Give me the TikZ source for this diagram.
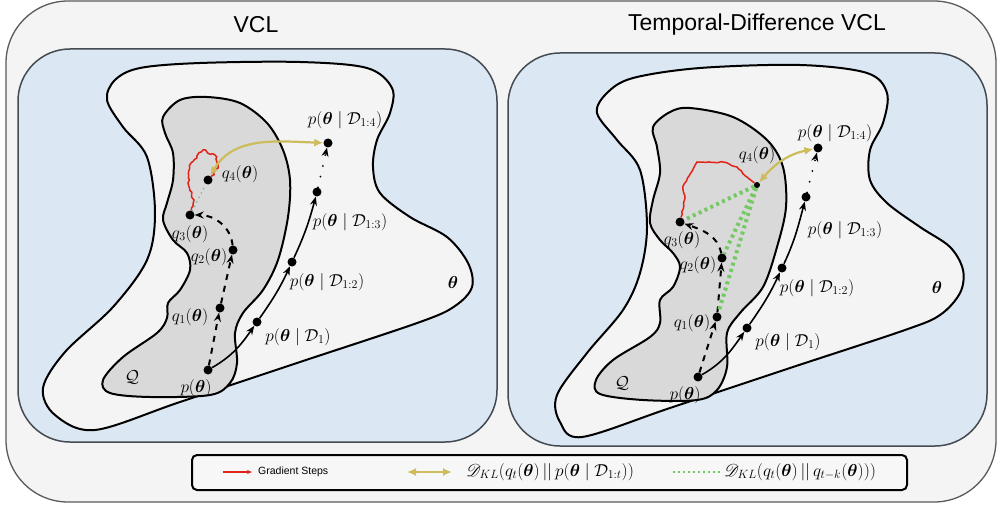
\documentclass[tikz,border=0pt]{standalone}
\usepackage{amsmath,bm,mathrsfs}
\usepackage{fontspec}
\newfontfamily\sansf{Liberation Sans}
\usetikzlibrary{arrows.meta,decorations.pathmorphing,calc}
\pgfdeclarelayer{fg}
\pgfsetlayers{main,fg}
\definecolor{outerbg}{HTML}{F4F4F4}
\definecolor{outerln}{HTML}{5A5A5A}
\definecolor{panelbg}{HTML}{DCE7F4}
\definecolor{panelln}{HTML}{454B52}
\definecolor{blobbg}{HTML}{F4F4F4}
\definecolor{qbg}{HTML}{D9D9D9}
\definecolor{gradred}{HTML}{E2231A}
\definecolor{klcol}{HTML}{CDBC5C}
\definecolor{tdcol}{HTML}{74C964}
\definecolor{faintcol}{HTML}{8FB3A0}
\tikzset{
  dotnode/.style={circle,fill=black,inner sep=0pt,minimum size=9pt},
  lab/.style={font=\fontsize{17}{20}\selectfont,inner sep=0pt},
  leglab/.style={font=\fontsize{18}{20}\selectfont,inner sep=0pt,anchor=west},
  blob/.style={draw=black,line width=2pt,fill=blobbg},
  qblob/.style={draw=black,line width=2pt,fill=qbg},
  dpath/.style={line width=2pt,dash pattern=on 6pt off 6pt,-{Stealth[length=9pt,width=7pt]}},
  spath/.style={line width=1.6pt,-{Stealth[length=9pt,width=7pt]}},
  dotpath/.style={line width=2pt,line cap=round,dash pattern=on 0pt off 11pt,-{Stealth[length=9pt,width=7pt]}},
  gradpath/.style={gradred,line width=1.5pt,decorate,decoration={random steps,segment length=2.5pt,amplitude=1.3pt}},
  klpath/.style={klcol,line width=2.2pt,{Latex[length=9pt,width=8pt]}-{Latex[length=9pt,width=8pt]}},
  tdpath/.style={tdcol,line width=4pt,dash pattern=on 3pt off 3.5pt},
}
\begin{document}
\begin{tikzpicture}[x=1pt,y=-1pt]
\pgfmathsetseed{7}
\useasboundingbox (0,0) rectangle (1000,505);
% outer frame
\draw[outerln,line width=1.3pt,fill=outerbg,rounded corners=62pt] (6,1) rectangle (996,502);
\node[font=\sansf\fontsize{23}{26}\selectfont] (t1) at (256,25) {VCL};
\node[font=\sansf\fontsize{23}{26}\selectfont] (t2) at (757,25) {Temporal-Difference VCL};
% panels
\draw[panelln,line width=1.5pt,fill=panelbg,rounded corners=52pt] (18,49) rectangle (497,442);
\draw[panelln,line width=1.5pt,fill=panelbg,rounded corners=52pt] (508,53) rectangle (987,446);

% ---------- left panel ----------
\draw[blob] plot[smooth cycle,tension=0.55] coordinates {
 (107,100) (115,80) (140,68) (200,63) (300,62) (367,68) (392,88) (390,113) (377,140)
 (373,167) (380,193) (410,217) (447,237) (468,263) (472,287) (455,306) (420,322)
 (300,362) (180,402) (95,430) (55,415) (43,388) (65,352) (113,307) (147,260)
 (155,213) (147,157) (123,127)};
\draw[qblob] plot[smooth cycle,tension=0.55] coordinates {
 (163,117) (180,100) (207,97) (240,103) (267,123) (283,150) (290,180) (288,217)
 (278,260) (263,290) (243,313) (235,333) (237,363) (230,383) (210,395) (150,397)
 (110,393) (103,380) (123,357) (157,333) (167,318) (168,303) (180,290) (190,270)
 (187,253) (173,240) (163,220) (167,203) (173,180) (173,153) (165,133)};
\node[lab] (lQ) at (132,377) {$\mathcal{Q}$};
\node[lab] (lth) at (453,282) {$\bm{\theta}$};

\begin{pgfonlayer}{fg}
\node[dotnode] (lp0) at (208,370) {};
\node[dotnode] (lq1) at (220,308) {};
\node[dotnode] (lq2) at (233,250) {};
\node[dotnode] (lq3) at (190,215) {};
\node[dotnode] (lq4) at (208,180) {};
\node[dotnode] (lD1) at (257,322) {};
\node[dotnode] (lD12) at (292,262) {};
\node[dotnode] (lD13) at (317,192) {};
\node[dotnode] (lD14) at (328,143) {};
\end{pgfonlayer}

\node[lab] (llp0) at (196,388) {$p(\bm{\theta})$};
\node[lab] (llq1) at (190,317) {$q_1(\bm{\theta})$};
\node[lab] (llq2) at (209,257) {$q_2(\bm{\theta})$};
\node[lab] (llq3) at (190,234) {$q_3(\bm{\theta})$};
\node[lab] (llq4) at (240,174) {$q_4(\bm{\theta})$};
\node[lab] (llD1) at (298,337) {$p(\bm{\theta}\mid\mathcal{D}_1)$};
\node[lab] (llD12) at (327,282) {$p(\bm{\theta}\mid\mathcal{D}_{1:2})$};
\node[lab] (llD13) at (350,222) {$p(\bm{\theta}\mid\mathcal{D}_{1:3})$};
\node[lab] (llD14) at (345,120) {$p(\bm{\theta}\mid\mathcal{D}_{1:4})$};

\draw[dpath] (lp0) -- (lq1);
\draw[dpath] (lq1) -- (lq2);
\draw[dpath] (lq2) to[out=95,in=0] (lq3);
\draw[spath] (lp0) to[out=30,in=235] (lD1);
\draw[spath] (lD1) to[out=55,in=245] (lD12);
\draw[spath] (lD12) to[out=65,in=255] (lD13);
\draw[dotpath] (lD13) -- (lD14);
\draw[faintcol,line width=2pt,line cap=round,dash pattern=on 0pt off 5pt] (lq3) -- (lq4);
\draw[gradpath] (lq3) -- (194,200) -- (188,183) -- (191,163) -- (203,150) -- (215,155) -- (218,168) -- (lq4);
\draw[klpath] (lq4) to[out=60,in=178] (lD14);

% ---------- right panel ----------
\draw[blob] plot[smooth cycle,tension=0.55] coordinates {
 (597,113) (607,93) (633,78) (700,68) (800,65) (867,73) (887,93) (883,123) (870,150)
 (870,180) (887,203) (920,227) (950,247) (963,270) (960,293) (940,315) (905,330)
 (790,368) (670,408) (582,437) (560,422) (557,395) (587,353) (623,310) (640,273)
 (647,227) (640,170) (617,140)};
\draw[qblob] plot[smooth cycle,tension=0.55] coordinates {
 (653,127) (670,112) (690,108) (733,117) (767,140) (783,167) (786,207) (777,247)
 (763,287) (740,313) (727,333) (727,367) (717,390) (697,400) (643,400) (600,394)
 (596,380) (613,360) (650,337) (660,323) (660,300) (673,287) (680,267) (673,253)
 (660,240) (650,223) (653,200) (660,173) (657,147)};
\node[lab] (rQ) at (622,383) {$\mathcal{Q}$};
\node[lab] (rth) at (937,287) {$\bm{\theta}$};

\begin{pgfonlayer}{fg}
\node[dotnode] (rp0) at (698,377) {};
\node[dotnode] (rq1) at (717,317) {};
\node[dotnode] (rq2) at (722,258) {};
\node[dotnode] (rq3) at (680,222) {};
\node[dotnode,minimum size=6pt] (rq4) at (757,185) {};
\node[dotnode] (rD1) at (747,328) {};
\node[dotnode] (rD12) at (782,268) {};
\node[dotnode] (rD13) at (806,197) {};
\node[dotnode] (rD14) at (818,148) {};
\end{pgfonlayer}

\node[lab] (rlp0) at (685,395) {$p(\bm{\theta})$};
\node[lab] (rlq1) at (692,323) {$q_1(\bm{\theta})$};
\node[lab] (rlq2) at (698,265) {$q_2(\bm{\theta})$};
\node[lab] (rlq3) at (682,240) {$q_3(\bm{\theta})$};
\node[lab] (rlq4) at (757,155) {$q_4(\bm{\theta})$};
\node[lab] (rlD1) at (788,342) {$p(\bm{\theta}\mid\mathcal{D}_1)$};
\node[lab] (rlD12) at (817,288) {$p(\bm{\theta}\mid\mathcal{D}_{1:2})$};
\node[lab] (rlD13) at (845,230) {$p(\bm{\theta}\mid\mathcal{D}_{1:3})$};
\node[lab] (rlD14) at (835,133) {$p(\bm{\theta}\mid\mathcal{D}_{1:4})$};

\draw[dpath] (rp0) -- (rq1);
\draw[dpath] (rq1) -- (rq2);
\draw[dpath] (rq2) to[out=100,in=-20] (rq3);
\draw[spath] (rp0) to[out=30,in=235] (rD1);
\draw[spath] (rD1) to[out=55,in=245] (rD12);
\draw[spath] (rD12) to[out=65,in=255] (rD13);
\draw[dotpath] (rD13) -- (rD14);
\draw[tdpath] (rq4) -- (rq3);
\draw[tdpath] (rq4) -- (rq2);
\draw[tdpath] (rq4) -- (rq1);
\draw[gradpath,decoration={random steps,segment length=3pt,amplitude=0.6pt}] (rq3) -- (685,198) -- (683,186) -- (697,162) -- (723,162) -- (737,167) -- (747,177) -- (rq4);
\draw[klpath] (rq4) to[out=50,in=192] (rD14);

% ---------- legend ----------
\draw[black,line width=2pt,fill=white!97!black,rounded corners=5pt] (192,455) rectangle (907,490);
\coordinate (g1) at (223,472);
\coordinate (g2) at (252,472);
\draw[gradred,line width=1.5pt,-{Stealth[length=5pt,width=4pt]}] (g1) -- (g2);
\node[font=\sansf\fontsize{10.5}{12}\selectfont,anchor=west,inner sep=0pt] (lgt1) at (258,472) {Gradient Steps};
\coordinate (k1) at (407,472);
\coordinate (k2) at (452,472);
\draw[klpath] (k1) -- (k2);
\node[leglab] (lgt2) at (466,472) {$\mathscr{D}_{KL}(q_t(\bm{\theta})\,||\,p(\bm{\theta}\mid\mathcal{D}_{1:t}))$};
\coordinate (d1) at (673,472);
\coordinate (d2) at (721,472);
\draw[tdcol,line width=2.5pt,dash pattern=on 2pt off 3pt] (d1) -- (d2);
\node[leglab] (lgt3) at (724,472) {$\mathscr{D}_{KL}(q_t(\bm{\theta})\,||\,q_{t-k}(\bm{\theta})))$};
\end{tikzpicture}
\end{document}
